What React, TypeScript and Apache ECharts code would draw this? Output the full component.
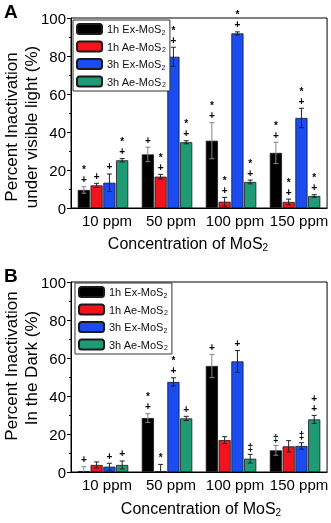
import React, { useEffect, useRef } from "react";
import * as echarts from "echarts";

const categories = ["10 ppm", "50 ppm", "100 ppm", "150 ppm"];
const seriesNames = ["1h Ex-MoS2", "1h Ae-MoS2", "3h Ex-MoS2", "3h Ae-MoS2"];
const colors = ["#000000", "#f2131d", "#1a4cf2", "#1e9b74"];
const errColors = ["#858585", "#222222", "#222222", "#222222"];

// Panel A: under visible light
const lightBlack = [9.5, 28.2, 35.4, 29.0];
const lightRed = [11.9, 16.5, 3.3, 3.2];
const lightBlue = [13.3, 79.6, 91.9, 47.4];
const lightGreen = [25.1, 34.6, 13.7, 6.3];
const lightBlackErr = [1.7, 3.8, 9.5, 5.6];
const lightRedErr = [1.1, 1.2, 2.3, 1.5];
const lightBlueErr = [4.6, 5.0, 0.8, 5.1];
const lightGreenErr = [0.9, 0.8, 1.0, 0.7];
// annotations, symbols listed top to bottom
const lightBlackAnn = ["*\n+", "+", "*\n+", "*\n+"];
const lightRedAnn = ["+", "*\n+", "*\n+", "*\n+"];
const lightBlueAnn = ["+", "*\n+", "*\n+", "*\n+"];
const lightGreenAnn = ["*\n+", "*\n+", "*\n+", "*\n+"];

// Panel B: in the dark
const darkBlack = [0.5, 28.4, 55.8, 11.4];
const darkRed = [3.7, 0.3, 16.8, 13.5];
const darkBlue = [2.8, 47.4, 58.2, 13.7];
const darkGreen = [3.7, 28.2, 7.0, 27.7];
const darkBlackErr = [2.3, 2.3, 6.1, 2.6];
const darkRedErr = [1.6, 3.7, 1.8, 3.0];
const darkBlueErr = [1.8, 2.2, 5.7, 1.7];
const darkGreenErr = [2.1, 1.1, 2.3, 2.1];
const darkBlackAnn = ["+", "*\n+", "+", "‡"];
const darkRedAnn = ["", "*", "", ""];
const darkBlueAnn = ["+", "*\n+", "+", "‡"];
const darkGreenAnn = ["+", "+", "‡", "+\n+"];

const yTicks = [0, 20, 40, 60, 80, 100];

const FONT = "Liberation Sans, Arial, Helvetica, sans-serif";
const BAR_W = 0.19;
const BAR_GAP = 0.05;

function barSeries(grid: number, idx: number, vals: number[]) {
  return {
    type: "bar",
    name: seriesNames[idx],
    xAxisIndex: grid,
    yAxisIndex: grid,
    data: vals,
    barWidth: BAR_W * 100 + "%",
    barGap: BAR_GAP * 100 + "%",
    itemStyle: { color: colors[idx], borderColor: "#1a1a1a", borderWidth: 0.8 },
    z: 2,
  };
}

function errSeries(grid: number, idx: number, vals: number[], errs: number[], anns: string[]) {
  return {
    type: "custom",
    name: "err" + grid + idx,
    xAxisIndex: grid,
    yAxisIndex: grid,
    clip: false,
    silent: true,
    z: 5,
    itemStyle: { color: "#111" },
    data: vals.map((v, i) => [i, v, errs[i]]),
    encode: { x: 0, y: 1 },
    renderItem: (params: any, api: any) => {
      const i = api.value(0);
      const v = api.value(1);
      const e = api.value(2);
      const band = api.size([1, 0])[0];
      const w = band * BAR_W;
      const gap = w * BAR_GAP;
      const total = 4 * w + 3 * gap;
      const c0 = api.coord([i, 0])[0];
      const cx = c0 - total / 2 + idx * (w + gap) + w / 2;
      const yTop = api.coord([i, v + e])[1];
      const yBot = api.coord([i, Math.max(0, v - e)])[1];
      const st = { stroke: errColors[idx], lineWidth: 1, fill: "none" };
      const children: any[] = [
        { type: "line", shape: { x1: cx, y1: yTop, x2: cx, y2: yBot }, style: st },
        { type: "line", shape: { x1: cx - 2.5, y1: yTop, x2: cx + 2.5, y2: yTop }, style: st },
      ];
      if (v - e > 0) {
        children.push({ type: "line", shape: { x1: cx - 2.5, y1: yBot, x2: cx + 2.5, y2: yBot }, style: st });
      }
      const ann = anns[params.dataIndex] || "";
      if (ann) {
        children.push({
          type: "text",
          x: cx,
          y: yTop - 2,
          style: {
            text: ann,
            fill: "#000000",
            fontSize: 10,
            lineHeight: 10,
            fontFamily: FONT,
            fontWeight: "bold",
            align: "center",
            verticalAlign: "bottom",
          },
        });
      }
      return { type: "group", children };
    },
  };
}

function legendCfg(left: number, top: number) {
  return {
    left,
    top,
    orient: "vertical",
    data: seriesNames,
    itemWidth: 25,
    itemHeight: 10,
    itemGap: 5,
    padding: [3, 4, 3, 3],
    borderColor: "#333",
    borderWidth: 1,
    backgroundColor: "#fff",
    selectedMode: false,
    formatter: (n: string) => n.replace("MoS2", "MoS{sub|2}"),
    textStyle: {
      fontSize: 11,
      fontFamily: FONT,
      color: "#111",
      rich: { sub: { fontSize: 7, verticalAlign: "bottom", padding: [6, 0, 0, 0], fontFamily: FONT, color: "#111" } },
    },
  };
}

function xAxisCfg(grid: number) {
  return {
    type: "category",
    gridIndex: grid,
    data: categories,
    axisLine: { lineStyle: { color: "#000", width: 1 } },
    axisTick: { show: false },
    axisLabel: { color: "#000", fontSize: 15, fontFamily: FONT, margin: 5, interval: 0, hideOverlap: false, padding: [0, 0, 0, 8] },
  };
}

function yAxisCfg(grid: number) {
  return {
    type: "value",
    gridIndex: grid,
    min: 0,
    max: 100,
    interval: 20,
    axisLine: { show: true, lineStyle: { color: "#000", width: 1 } },
    axisTick: { show: true, inside: false, length: 4, lineStyle: { color: "#000" } },
    minorTick: { show: true, splitNumber: 2, length: 2, lineStyle: { color: "#000" } },
    splitLine: { show: false },
    axisLabel: {
      color: "#000",
      fontSize: 15,
      fontFamily: FONT,
      margin: 5,
      formatter: (v: number) => (yTicks.includes(v) ? String(v) : ""),
    },
  };
}

function vText(x: number, y: number, text: string) {
  return {
    type: "text",
    x,
    y,
    rotation: Math.PI / 2,
    style: { text, fill: "#000", fontSize: 17, fontFamily: FONT, align: "center", verticalAlign: "middle" },
  };
}

function xTitle(x: number, y: number) {
  return {
    type: "text",
    x,
    y,
    style: {
      text: "Concentration of MoS{sub|2}",
      fill: "#000",
      fontSize: 16,
      fontFamily: FONT,
      align: "center",
      verticalAlign: "middle",
      rich: { sub: { fontSize: 10, padding: [8, 0, 0, 0], fontFamily: FONT, fill: "#000", verticalAlign: "bottom" } },
    },
  };
}

export default function App() {
  const ref = useRef<HTMLDivElement>(null);
  useEffect(() => {
    if (!ref.current) return;
    const chart = echarts.init(ref.current, null, { renderer: "svg" });
    const option: any = {
      animation: false,
      backgroundColor: "#fff",
      grid: [
        { left: 71, right: 2, top: 18, height: 190, show: true, borderColor: "#000", borderWidth: 1, backgroundColor: "transparent" },
        { left: 71, right: 2, top: 282, height: 190, show: true, borderColor: "#000", borderWidth: 1, backgroundColor: "transparent" },
      ],
      xAxis: [xAxisCfg(0), xAxisCfg(1)],
      yAxis: [yAxisCfg(0), yAxisCfg(1)],
      legend: [legendCfg(73, 20), legendCfg(75, 283)],
      series: [
        barSeries(0, 0, lightBlack),
        barSeries(0, 1, lightRed),
        barSeries(0, 2, lightBlue),
        barSeries(0, 3, lightGreen),
        errSeries(0, 0, lightBlack, lightBlackErr, lightBlackAnn),
        errSeries(0, 1, lightRed, lightRedErr, lightRedAnn),
        errSeries(0, 2, lightBlue, lightBlueErr, lightBlueAnn),
        errSeries(0, 3, lightGreen, lightGreenErr, lightGreenAnn),
        barSeries(1, 0, darkBlack),
        barSeries(1, 1, darkRed),
        barSeries(1, 2, darkBlue),
        barSeries(1, 3, darkGreen),
        errSeries(1, 0, darkBlack, darkBlackErr, darkBlackAnn),
        errSeries(1, 1, darkRed, darkRedErr, darkRedAnn),
        errSeries(1, 2, darkBlue, darkBlueErr, darkBlueAnn),
        errSeries(1, 3, darkGreen, darkGreenErr, darkGreenAnn),
      ],
      graphic: [
        { type: "text", left: 4, top: 2, style: { text: "A", fontSize: 19, fontWeight: "bold", fontFamily: FONT, fill: "#000" } },
        { type: "text", left: 4, top: 266, style: { text: "B", fontSize: 19, fontWeight: "bold", fontFamily: FONT, fill: "#000" } },
        vText(11, 127, "Percent Inactivation"),
        vText(31, 127, "under visible light (%)"),
        vText(11, 366, "Percent Inactivation"),
        vText(31, 368, "In the Dark (%)"),
        xTitle(188, 243),
        xTitle(201, 508),
      ],
    };
    chart.setOption(option);
    return () => chart.dispose();
  }, []);
  return (
    <div
      ref={ref}
      style={{ position: "absolute", left: 0, top: 0, width: 331, height: 523, background: "#fff", willChange: "transform" }}
    />
  );
}
